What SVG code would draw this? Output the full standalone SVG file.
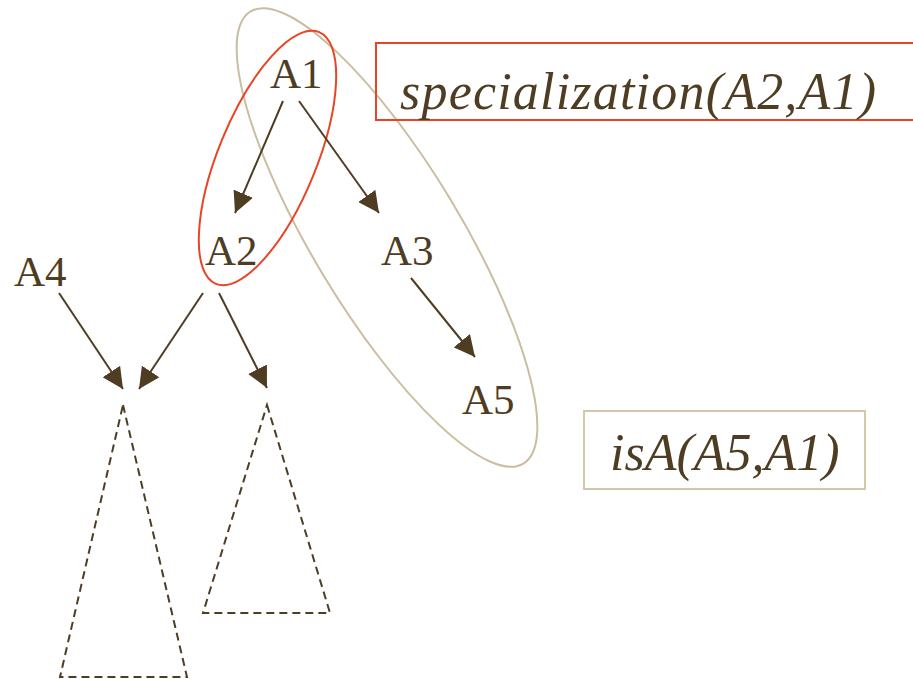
<svg xmlns="http://www.w3.org/2000/svg" width="913" height="679" viewBox="0 0 913 679">
<style>
.lbl{font-family:"Liberation Serif","Times New Roman",serif;font-size:43px;fill:#4f3d23}
.formula{font-family:"Liberation Serif","Times New Roman",serif;font-size:52px;font-style:italic;fill:#4f3d23}
.edge{stroke:#4f3d23;stroke-width:2;fill:none;marker-end:url(#ahm)}
.tri{stroke:#4f3d23;stroke-width:2;fill:none;stroke-dasharray:8 5}
</style>
<defs>
<marker id="ahm" viewBox="0 0 20 20" refX="20" refY="10" markerWidth="21" markerHeight="21" orient="auto" markerUnits="userSpaceOnUse">
<path d="M0,0 L20,10 L0,20 z" fill="#4f3d23"/>
</marker>
</defs>
<rect width="913" height="679" fill="#ffffff"/>
<g id="groups">
<ellipse cx="387" cy="237.5" rx="264" ry="74" transform="rotate(58.9 387 237.5)" fill="none" stroke="#cbbd9f" stroke-width="2"/>
<ellipse cx="267.5" cy="158" rx="136" ry="49" transform="rotate(-67.7 267.5 158)" fill="none" stroke="#ea4426" stroke-width="2"/>
</g>
<g id="connectors">
<line class="edge" x1="283" y1="101" x2="235" y2="213"/>
<line class="edge" x1="299" y1="101" x2="379" y2="213"/>
<line class="edge" x1="411" y1="278" x2="475" y2="357"/>
<line class="edge" x1="219" y1="293" x2="267" y2="388"/>
<line class="edge" x1="203" y1="293" x2="139" y2="389"/>
<line class="edge" x1="59" y1="293" x2="123" y2="389"/>
</g>
<g id="A1"><text class="lbl" x="270" y="88">A1</text></g>
<g id="A2"><text class="lbl" x="205" y="265">A2</text></g>
<g id="A3"><text class="lbl" x="381" y="265">A3</text></g>
<g id="A4"><text class="lbl" x="14" y="286">A4</text></g>
<g id="A5"><text class="lbl" x="462" y="414">A5</text></g>
<g id="subtree1"><polygon class="tri" points="123,405 187,677 60,677"/></g>
<g id="subtree2"><polygon class="tri" points="267,405 330,613 203,613"/></g>
<g id="specialization">
<rect x="376" y="43" width="545" height="77" fill="none" stroke="#ea4426" stroke-width="2"/>
<text class="formula" x="400" y="109" letter-spacing="1.2">specialization(A2,A1)</text>
</g>
<g id="isA">
<rect x="584" y="411" width="281" height="78" fill="none" stroke="#d5c8aa" stroke-width="2"/>
<text class="formula" x="610" y="470">isA(A5,A1)</text>
</g>
</svg>
